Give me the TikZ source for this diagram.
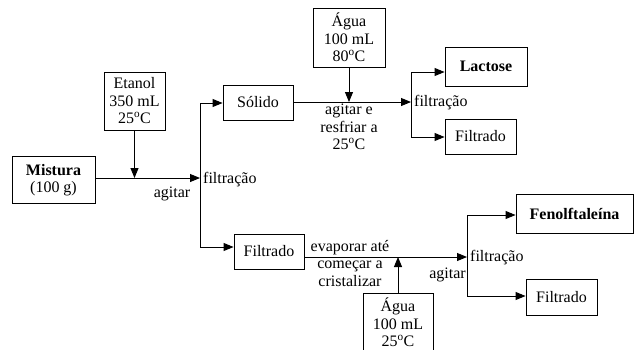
\documentclass[tikz,border=0pt]{standalone}
\usepackage{fontspec}
\setmainfont{Liberation Serif}
\usetikzlibrary{arrows.meta}
\tikzset{
  box/.style={draw, line width=0.9pt, align=center, inner sep=0pt, font=\fontsize{16}{17.5}\selectfont},
  lbl/.style={inner sep=0pt, align=center, font=\fontsize{16}{17.5}\selectfont},
  flow/.style={line width=0.9pt, -{Triangle[length=10pt,width=8pt]}},
  ln/.style={line width=0.9pt}
}
\newcommand{\degC}{\textsuperscript{o}C}
\begin{document}
\begin{tikzpicture}[x=1pt,y=-1pt]
\useasboundingbox (0,0) rectangle (635,349);
\clip (0,0) rectangle (635,349);
% boxes
\node[box, minimum width=83pt, minimum height=47pt] (mist) at (53.5,180) {\textbf{Mistura}\\(100 g)};
\node[box, minimum width=61pt, minimum height=58pt] (etan) at (134.5,101) {Etanol\\350 mL\\25\degC};
\node[box, minimum width=70pt, minimum height=35pt] (sol) at (258,102.5) {Sólido};
\node[box, minimum width=72pt, minimum height=59pt] (agua1) at (349,37.5) {Água\\100 mL\\80\degC};
\node[box, minimum width=82pt, minimum height=39pt] (lac) at (486,66.5) {\textbf{Lactose}};
\node[box, minimum width=71pt, minimum height=35pt] (filt1) at (480.5,136.5) {Filtrado};
\node[box, minimum width=70pt, minimum height=35pt] (filt2) at (269,251.5) {Filtrado};
\node[box, minimum width=70pt, minimum height=80pt, anchor=north] (agua2) at (398,293) {};
\node[lbl, anchor=north] (agua2t) at (398,298) {Água\\100 mL\\25\degC};
\node[box, minimum width=117pt, minimum height=39pt] (fen) at (574.5,213.5) {\textbf{Fenolftaleína}};
\node[box, minimum width=71pt, minimum height=36pt] (filt3) at (561.5,297) {Filtrado};
% junction coordinates
\coordinate (j1) at (200,178);
\coordinate (j1t) at (200,103);
\coordinate (j1b) at (200,247);
\coordinate (j2) at (411,102);
\coordinate (j2t) at (411,72);
\coordinate (j2b) at (411,137);
\coordinate (j3) at (467,257);
\coordinate (j3t) at (467,215);
\coordinate (j3b) at (467,296);
% first stage
\draw[flow] (mist.east |- j1) -- (j1);
\draw[flow] (etan.south) -- (etan.south |- j1);
\draw[ln] (j1t) -- (j1b);
\draw[flow] (j1t) -- (sol.west |- j1t);
\draw[flow] (j1b) -- (filt2.west |- j1b);
\node[lbl] (ag1) at (172,194) {agitar};
\node[lbl, anchor=west] (fi1) at (203,180) {filtração};
% upper branch
\draw[flow] (sol.east |- j2) -- (j2);
\draw[flow] (agua1.south) -- (agua1.south |- j2);
\draw[ln] (j2t) -- (j2b);
\draw[flow] (j2t) -- (lac.west |- j2t);
\draw[flow] (j2b) -- (filt1.west |- j2b);
\node[lbl, anchor=north] (ag2) at (349,104) {agitar e\\resfriar a\\25\degC};
\node[lbl, anchor=west] (fi2) at (414,103) {filtração};
% lower branch
\draw[flow] (filt2.east |- j3) -- (j3);
\draw[flow] (agua2.north) -- (agua2.north |- j3);
\draw[ln] (j3t) -- (j3b);
\draw[flow] (j3t) -- (fen.west |- j3t);
\draw[flow] (j3b) -- (filt3.west |- j3b);
\node[lbl, anchor=north] (ev) at (350,240) {evaporar até\\começar a\\cristalizar};
\node[lbl, anchor=east] (ag3) at (466,275) {agitar};
\node[lbl, anchor=west] (fi3) at (470,258) {filtração};
\end{tikzpicture}
\end{document}
